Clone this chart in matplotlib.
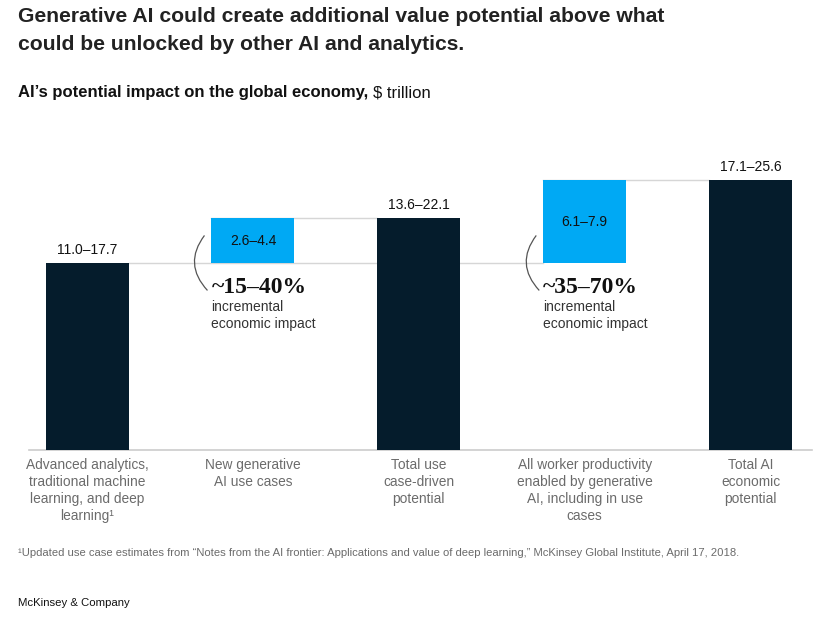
import matplotlib
matplotlib.use("Agg")
import matplotlib.pyplot as plt
from matplotlib.path import Path
from matplotlib.patches import PathPatch
from matplotlib.transforms import IdentityTransform

# ---- data ----
categories = [
    "Advanced analytics,\ntraditional machine\nlearning, and deep\nlearning\u00b9",
    "New generative\nAI use cases",
    "Total use\ncase-driven\npotential",
    "All worker productivity\nenabled by generative\nAI, including in use\ncases",
    "Total AI\neconomic\npotential",
]
value_labels = ["11.0\u201317.7", "2.6\u20134.4", "13.6\u201322.1", "6.1\u20137.9", "17.1\u201325.6"]
bar_bottom = [0.0, 14.35, 0.0, 14.35, 0.0]
bar_top = [14.35, 17.85, 17.85, 20.75, 20.75]
is_total = [True, False, True, False, True]
impact_pct = ["", "~15\u201340%", "", "~35\u201370%", ""]
impact_text = "incremental\neconomic impact"

DARK = "#051C2C"
BLUE = "#00A9F4"
GRID = "#D6D6D6"

W, H, DPI = 834, 619, 100
fig = plt.figure(figsize=(W / DPI, H / DPI), dpi=DPI)
fig.patch.set_facecolor("white")

def fx(px):
    return px / W

def fy(py):
    return 1 - py / H

ax_left, ax_right, ax_bottom, ax_top = 29, 812, 450, 150
ax = fig.add_axes([fx(ax_left), fy(ax_bottom), (ax_right - ax_left) / W, (ax_bottom - ax_top) / H])
ax.set_xlim(-0.35, 4.37)
ax.set_ylim(0, 300 / 13.0)
ax.axis("off")

n = len(categories)
xs = list(range(n))
width = 0.5

heights = [t - b for t, b in zip(bar_top, bar_bottom)]
colors = [DARK if t else BLUE for t in is_total]
ax.bar(xs, heights, bottom=bar_bottom, width=width, color=colors, zorder=3, linewidth=0)

# connector lines
ax.plot([xs[0] + width / 2, xs[3] - width / 2], [bar_top[0], bar_top[0]], color=GRID, lw=1, zorder=1)
ax.plot([xs[1] - width / 2, xs[2] - width / 2], [bar_top[1], bar_top[1]], color=GRID, lw=1, zorder=1)
ax.plot([xs[3] - width / 2, xs[4] - width / 2], [bar_top[3], bar_top[3]], color=GRID, lw=1, zorder=1)
# baseline
ax.plot([-0.35, 4.37], [0, 0], color="#CCCCCC", lw=1.2, zorder=2, clip_on=False)

label_font = "Liberation Sans"

for i in xs:
    if is_total[i]:
        ax.annotate(value_labels[i], xy=(i, bar_top[i]), xytext=(0, 13), textcoords="offset pixels",
                    ha="center", va="center", fontsize=10, family=label_font, color="#111111")
    else:
        ax.text(i, (bar_top[i] + bar_bottom[i]) / 2, value_labels[i], ha="center", va="center",
                fontsize=10, family=label_font, color="#111111", zorder=4)
    # category labels
    ax.annotate(categories[i], xy=(i, 0), xytext=(0, -8), textcoords="offset pixels",
                ha="center", va="top", fontsize=9.9, family=label_font, color="#6B6B6B",
                linespacing=1.28)

fig.canvas.draw()
for i in xs:
    if impact_pct[i]:
        xl = i - width / 2
        ax.annotate(impact_pct[i], xy=(xl, bar_bottom[i]), xytext=(0, -24), textcoords="offset pixels",
                    ha="left", va="center", fontsize=17, family="Liberation Serif",
                    fontweight="bold", color="#111111")
        ax.annotate(impact_text, xy=(xl, bar_bottom[i]), xytext=(0, -37), textcoords="offset pixels",
                    ha="left", va="top", fontsize=10, family=label_font, color="#333333",
                    linespacing=1.2)
        px, py = ax.transData.transform((xl, bar_bottom[i]))
        verts = [(px - 7, py + 28), (px - 28.5, py - 0.5), (px - 4, py - 27)]
        path = Path(verts, [Path.MOVETO, Path.CURVE3, Path.CURVE3])
        patch = PathPatch(path, facecolor="none", edgecolor="#555555", lw=0.9,
                          transform=IdentityTransform())
        fig.add_artist(patch)

# titles
fig.text(fx(18), fy(17), "Generative AI could create additional value potential above what",
         ha="left", va="center", fontsize=15.2, fontweight="bold", family=label_font, color="#222222")
fig.text(fx(18), fy(44), "could be unlocked by other AI and analytics.",
         ha="left", va="center", fontsize=15.2, fontweight="bold", family=label_font, color="#222222")
t1 = fig.text(fx(18), fy(93), "AI\u2019s potential impact on the global economy, ",
              ha="left", va="center", fontsize=12, fontweight="bold", family=label_font, color="#111111")
fig.canvas.draw()
bb = t1.get_window_extent()
fig.text(bb.x1 / W, fy(93), "$ trillion", ha="left", va="center", fontsize=12,
         family=label_font, color="#111111")

fig.text(fx(18), fy(553),
         "\u00b9Updated use case estimates from \u201cNotes from the AI frontier: Applications and value of deep learning,\u201d McKinsey Global Institute, April 17, 2018.",
         ha="left", va="center", fontsize=8.1, family=label_font, color="#6B6B6B")
fig.text(fx(18), fy(603), "McKinsey & Company", ha="left", va="center", fontsize=8.2,
         family=label_font, color="#111111")

fig.savefig("out.png", dpi=DPI, facecolor="white")
